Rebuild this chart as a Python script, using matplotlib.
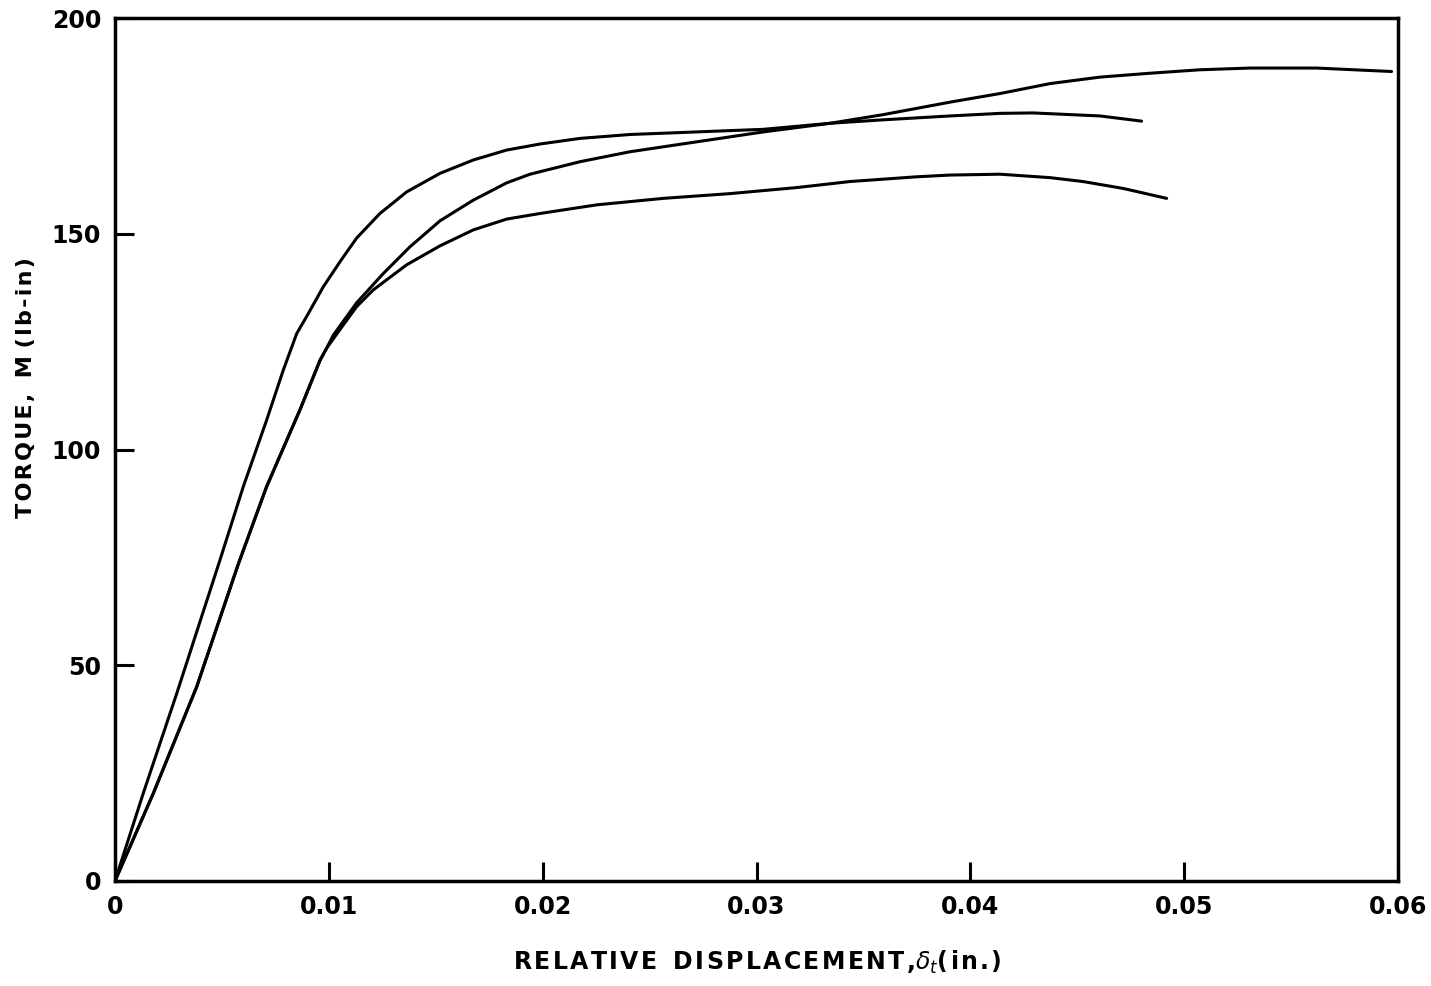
import numpy as np
import matplotlib
matplotlib.use('Agg')
import matplotlib.pyplot as plt

# three torque vs displacement curves
a_x = [0, 0.00132, 0.00289, 0.00491, 0.0060, 0.00709, 0.00787, 0.0085, 0.00896, 0.00974,
       0.01052, 0.0113, 0.01239, 0.01364, 0.0152, 0.01676, 0.01832, 0.01988, 0.02175,
       0.02408, 0.0272, 0.03032, 0.03344, 0.03592, 0.03905, 0.04139, 0.04293, 0.04606,
       0.04801]
a_y = [0, 20.3, 43.5, 74.4, 91.4, 106.8, 118.4, 126.9, 130.8, 137.7,
       143.5, 149.0, 154.7, 159.7, 164.0, 167.1, 169.4, 170.8, 172.1,
       173.0, 173.6, 174.2, 175.6, 176.4, 177.3, 177.9, 178.0, 177.3,
       176.1]

b_x = [0, 0.00179, 0.00382, 0.00577, 0.00709, 0.00865, 0.00959, 0.0099, 0.01021, 0.0113,
       0.01255, 0.0138, 0.0152, 0.01676, 0.01832, 0.01941, 0.02175, 0.02408, 0.0272,
       0.03032, 0.03157, 0.03344, 0.03592, 0.03905, 0.04139, 0.04373, 0.04606, 0.0484,
       0.05074, 0.05308, 0.0562, 0.0597]
b_y = [0, 20.3, 45.0, 73.5, 91.4, 109.2, 120.7, 123.5, 126.5, 134.0,
       140.8, 147.0, 153.0, 157.8, 161.8, 163.8, 166.7, 169.0, 171.3,
       173.6, 174.4, 175.6, 177.6, 180.5, 182.5, 184.8, 186.3, 187.2,
       188.0, 188.4, 188.4, 187.6]

c_x = [0, 0.00179, 0.00382, 0.00577, 0.00709, 0.00865, 0.00959, 0.0099, 0.01052, 0.0113,
       0.01208, 0.01364, 0.0152, 0.01676, 0.01832, 0.01988, 0.02253, 0.02564, 0.02876,
       0.03188, 0.03437, 0.03749, 0.03905, 0.04139, 0.04373, 0.04527, 0.04715, 0.04918]
c_y = [0, 20.3, 45.0, 73.5, 91.4, 109.2, 120.7, 123.5, 127.8, 133.1,
       137.0, 142.8, 147.2, 150.9, 153.4, 154.7, 156.7, 158.2, 159.3,
       160.7, 162.1, 163.2, 163.6, 163.8, 163.0, 162.1, 160.5, 158.2]

x_ticks = [0, 0.01, 0.02, 0.03, 0.04, 0.05, 0.06]
x_tick_labels = ['0', '0.01', '0.02', '0.03', '0.04', '0.05', '0.06']
y_ticks = [0, 50, 100, 150, 200]

W, H = 1431, 986
fig = plt.figure(figsize=(W / 100, H / 100), dpi=100)
ax = fig.add_axes([115 / W, 1 - 881 / H, 1283 / W, 863 / H])

for xs, ys in [(a_x, a_y), (b_x, b_y), (c_x, c_y)]:
    ax.plot(xs, ys, color='black', linewidth=2.2, solid_joinstyle='round', solid_capstyle='round')

ax.set_xlim(0, 0.06)
ax.set_ylim(0, 200)
ax.set_xticks(x_ticks)
ax.set_xticklabels(x_tick_labels)
ax.set_yticks(y_ticks)

for s in ax.spines.values():
    s.set_linewidth(2.5)
ax.tick_params(direction='in', length=14, width=2.2, labelsize=17, pad=10)
for lab in ax.get_xticklabels() + ax.get_yticklabels():
    lab.set_fontweight('bold')

# letter-spaced axis titles, like the lettering on the original drawing
hs = '\u200a'
xlab = hs.join('RELATIVE') + '  ' + hs.join('DISPLACEMENT,') + r'$\delta_t$' + hs.join('(in.)')
ylab = hs.join('TORQUE,') + '  ' + 'M' + ' ' + hs.join('(lb-in)')
fig.text(757 / W, 1 - 970 / H, xlab, fontsize=17, fontweight='bold', ha='center', va='baseline')
fig.text(26 / W, 1 - 388 / H, ylab, fontsize=16, fontweight='bold', rotation=90,
         ha='center', va='center')

fig.savefig('out.png', dpi=100, facecolor='white')
